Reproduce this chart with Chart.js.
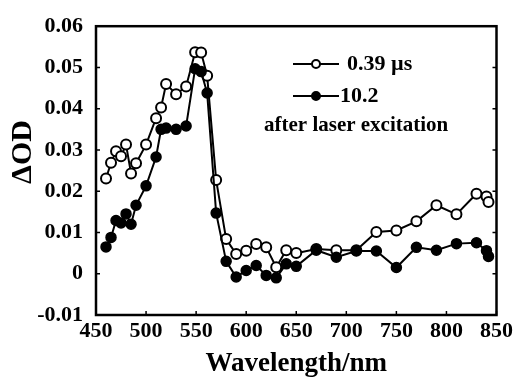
<!DOCTYPE html>
<html>
<head>
  <script src="https://cdn.jsdelivr.net/npm/chart.js"></script>
  <style>
    body { margin: 0; background: #fff; }
  </style>
</head>
<body>
  <canvas id="odChart" width="516" height="377"></canvas>

  <script>
    // wavelengths (nm) shared by both traces
    const wavelengths = [460, 465, 470, 475, 480, 485, 490, 500, 510, 515, 520, 530, 540, 549, 555, 561,
      570, 580, 590, 600, 610, 620, 630, 640, 650, 670, 690, 710, 730, 750, 770, 790, 810, 830, 840, 842];

    // 0.39 us after laser excitation (open circles)
    const odEarly = [0.0231, 0.0269, 0.0297, 0.0285, 0.0313, 0.0243, 0.0268, 0.0313, 0.0377, 0.0403, 0.0460,
      0.0435, 0.0454, 0.0537, 0.0536, 0.0480, 0.0227, 0.0084, 0.0048, 0.0056, 0.0072, 0.0064, 0.0016, 0.0057,
      0.0050, 0.0060, 0.0057, 0.0057, 0.0101, 0.0105, 0.0127, 0.0166, 0.0144, 0.0194, 0.0187, 0.0174];

    // 10.2 us (filled circles)
    const odLate = [0.0065, 0.0088, 0.0129, 0.0123, 0.0145, 0.0120, 0.0166, 0.0213, 0.0283, 0.0350, 0.0353,
      0.0350, 0.0358, 0.0497, 0.0490, 0.0438, 0.0147, 0.0030, -0.0008, 0.0008, 0.0020, -0.0004, -0.0010, 0.0024,
      0.0018, 0.0057, 0.0040, 0.0055, 0.0055, 0.0015, 0.0064, 0.0057, 0.0073, 0.0075, 0.0056, 0.0042];

    const seriesNames = ['0.39 \u00b5s', '10.2'];
    const legendNote = 'after laser excitation';
    const yTitle = '\u0394OD';

    const serif = '"Liberation Serif", "DejaVu Serif", serif';

    function toPoints(ys) {
      return wavelengths.map((w, i) => ({ x: w, y: ys[i] }));
    }

    // frame, inward tick marks, y title and the little legend block
    const framePlugin = {
      id: 'frame',
      afterDraw(chart) {
        const ctx = chart.ctx;
        const a = chart.chartArea;
        const xs = chart.scales.x;
        const ys = chart.scales.y;
        ctx.save();
        ctx.strokeStyle = '#000';
        ctx.lineWidth = 1.5;
        xs.ticks.forEach(t => {
          const px = xs.getPixelForValue(t.value);
          ctx.beginPath();
          ctx.moveTo(px, a.bottom);
          ctx.lineTo(px, a.bottom - 4);
          ctx.stroke();
        });
        ys.ticks.forEach(t => {
          const py = ys.getPixelForValue(t.value);
          ctx.beginPath();
          ctx.moveTo(a.left, py);
          ctx.lineTo(a.left + 4, py);
          ctx.moveTo(a.right, py);
          ctx.lineTo(a.right - 4, py);
          ctx.stroke();
        });
        ctx.lineWidth = 2.5;
        ctx.strokeRect(a.left, a.top, a.right - a.left, a.bottom - a.top);

        ctx.fillStyle = '#000';
        ctx.textBaseline = 'middle';

        // y axis title sits a bit above the middle, as in the original
        ctx.save();
        ctx.translate(23, 152);
        ctx.rotate(-Math.PI / 2);
        ctx.textAlign = 'center';
        ctx.font = 'bold 30px ' + serif;
        ctx.fillText(yTitle, 0, 0);
        ctx.restore();

        // legend
        ctx.lineWidth = 2;
        ctx.font = 'bold 22px ' + serif;
        ctx.textAlign = 'left';
        const rows = [64, 96];
        rows.forEach((ry, i) => {
          ctx.beginPath();
          ctx.moveTo(293, ry);
          ctx.lineTo(339, ry);
          ctx.stroke();
          ctx.beginPath();
          ctx.arc(316, ry, 4, 0, Math.PI * 2);
          ctx.fillStyle = i === 0 ? '#fff' : '#000';
          ctx.fill();
          ctx.stroke();
          ctx.fillStyle = '#000';
          ctx.fillText(seriesNames[i], i === 0 ? 347 : 340, ry);
        });
        ctx.font = 'bold 21px ' + serif;
        ctx.fillText(legendNote, 264, 126);
        ctx.restore();
      }
    };

    const ctx = document.getElementById('odChart').getContext('2d');
    const odChart = new Chart(ctx, {
      type: 'line',
      data: {
        datasets: [
          {
            label: seriesNames[1],
            data: toPoints(odLate),
            borderColor: '#000',
            backgroundColor: '#000',
            pointBackgroundColor: '#000',
            borderWidth: 2,
            pointRadius: 5,
            pointBorderWidth: 1.5,
            tension: 0,
          },
          {
            label: seriesNames[0],
            data: toPoints(odEarly),
            borderColor: '#000',
            backgroundColor: '#fff',
            pointBackgroundColor: '#fff',
            borderWidth: 2,
            pointRadius: 5,
            pointBorderWidth: 2,
            tension: 0,
          },
        ],
      },
      options: {
        responsive: false,
        animation: false,
        layout: {
          padding: { top: 22, right: 18, left: 0, bottom: 0 }
        },
        scales: {
          x: {
            type: 'linear',
            min: 450,
            max: 850,
            afterFit: s => { s.height = 62; },
            grid: { display: false, drawTicks: false },
            border: { display: false },
            ticks: {
              stepSize: 50,
              padding: 3,
              color: '#000',
              font: { family: serif, size: 22, weight: 'bold' }
            },
            title: {
              display: true,
              text: 'Wavelength/nm',
              color: '#000',
              padding: { top: 0, bottom: -1 },
              font: { family: serif, size: 27, weight: 'bold', lineHeight: 1 }
            }
          },
          y: {
            min: -0.01,
            max: 0.06,
            afterFit: s => { s.width = 96; },
            grid: { display: false, drawTicks: false },
            border: { display: false },
            ticks: {
              stepSize: 0.01,
              padding: 13,
              color: '#000',
              font: { family: serif, size: 22, weight: 'bold' },
              callback: function (value) {
                const v = Math.round(value * 100) / 100;
                return v === 0 ? '0' : v.toFixed(2);
              }
            },
            title: { display: false }
          },
        },
        plugins: {
          legend: { display: false },
          tooltip: { enabled: false },
        },
      },
      plugins: [framePlugin],
    });
  </script>
</body>
</html>
